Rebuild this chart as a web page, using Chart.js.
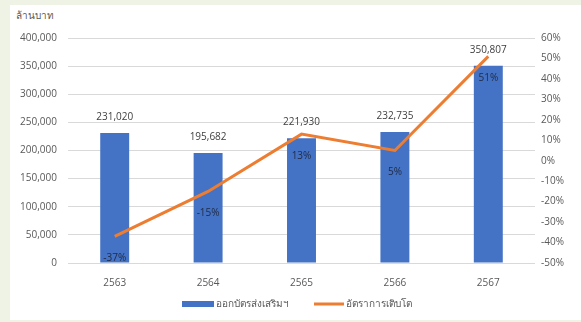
<!DOCTYPE html>
<html>
<head>
<meta charset="utf-8">
<script src="https://cdn.jsdelivr.net/npm/chart.js@4/dist/chart.umd.min.js"></script>
<style>
  html, body { margin: 0; padding: 0; background: #eef3e6; }
  #wrap { position: relative; width: 581px; height: 322px; overflow: hidden; }
  #panel { position: absolute; left: 10px; top: 5px; width: 571px; height: 315px; background: #ffffff; }
  #unit { position: absolute; left: 16px; top: 8px; font: 10px "Noto Sans", "DejaVu Sans", sans-serif; color: #595959; }
  canvas { position: absolute; left: 0; top: 0; }
</style>
</head>
<body>
<div id="wrap">
  <div id="panel"></div>
  <div id="unit">ล้านบาท</div>
  <canvas id="c" width="581" height="322"></canvas>
</div>
<script>
const categories = ['2563', '2564', '2565', '2566', '2567'];
const exportValues = [231020, 195682, 221930, 232735, 350807];
const growthRates = [-37, -15, 13, 5, 51];
const seriesNames = ['ออกบัตรส่งเสริมฯ', 'อัตราการเติบโต'];

const FONT = '"Open Sans", "Noto Sans", "DejaVu Sans", sans-serif';
const BLUE = '#4472C4';
const ORANGE = '#ED7D31';

const labelsPlugin = {
  id: 'labels',
  afterDatasetsDraw(chart) {
    const ctx = chart.ctx;
    ctx.save();
    ctx.font = '10px ' + FONT;
    ctx.textAlign = 'center';
    ctx.textBaseline = 'middle';
    const barMeta = chart.getDatasetMeta(0);
    barMeta.data.forEach((el, i) => {
      ctx.fillStyle = '#404040';
      ctx.fillText(exportValues[i].toLocaleString('en-US'), el.x, el.y - 16);
    });
    const lineMeta = chart.getDatasetMeta(1);
    lineMeta.data.forEach((el, i) => {
      ctx.fillStyle = '#1f2a44';
      ctx.fillText(growthRates[i] + '%', el.x, el.y + 22);
    });
    ctx.restore();
  }
};

const legendPlugin = {
  id: 'customLegend',
  afterDraw(chart) {
    const ctx = chart.ctx;
    ctx.save();
    ctx.font = '10px ' + FONT;
    ctx.textBaseline = 'middle';
    ctx.textAlign = 'left';
    const y = 304;
    ctx.fillStyle = BLUE;
    ctx.fillRect(182, y - 3, 32, 6);
    ctx.fillStyle = '#595959';
    ctx.fillText(seriesNames[0], 216, y);
    ctx.strokeStyle = ORANGE;
    ctx.lineWidth = 3;
    ctx.beginPath();
    ctx.moveTo(314, y);
    ctx.lineTo(344, y);
    ctx.stroke();
    ctx.fillStyle = '#595959';
    ctx.fillText(seriesNames[1], 346, y);
    ctx.restore();
  }
};

new Chart(document.getElementById('c'), {
  data: {
    labels: categories,
    datasets: [
      {
        type: 'bar',
        label: seriesNames[0],
        data: exportValues,
        backgroundColor: BLUE,
        yAxisID: 'y',
        barPercentage: 0.62,
        categoryPercentage: 0.5,
        order: 2
      },
      {
        type: 'line',
        label: seriesNames[1],
        data: growthRates,
        borderColor: ORANGE,
        backgroundColor: ORANGE,
        borderWidth: 3,
        pointRadius: 0,
        tension: 0,
        yAxisID: 'y1',
        order: 1
      }
    ]
  },
  options: {
    responsive: false,
    animation: false,
    layout: { padding: { left: 10, right: 0, top: 38, bottom: 0 } },
    plugins: {
      legend: { display: false },
      tooltip: { enabled: false }
    },
    scales: {
      x: {
        grid: { display: false, drawTicks: false },
        border: { display: false },
        ticks: { color: '#595959', font: { size: 10, family: FONT }, padding: 14 },
        afterFit(s) { s.height = 59; }
      },
      y: {
        position: 'left',
        min: 0, max: 400000,
        ticks: {
          stepSize: 50000,
          color: '#595959',
          font: { size: 10, family: FONT },
          padding: 11,
          callback: v => v.toLocaleString('en-US')
        },
        grid: { color: '#d9d9d9', drawTicks: false },
        border: { display: false },
        afterFit(s) { s.width = 58; }
      },
      y1: {
        position: 'right',
        min: -50, max: 60,
        ticks: {
          stepSize: 10,
          color: '#595959',
          font: { size: 10, family: FONT },
          padding: 6,
          callback: v => v + '%'
        },
        grid: { display: false, drawTicks: false },
        border: { display: false },
        afterFit(s) { s.width = 46; }
      }
    }
  },
  plugins: [labelsPlugin, legendPlugin]
});
</script>
</body>
</html>
